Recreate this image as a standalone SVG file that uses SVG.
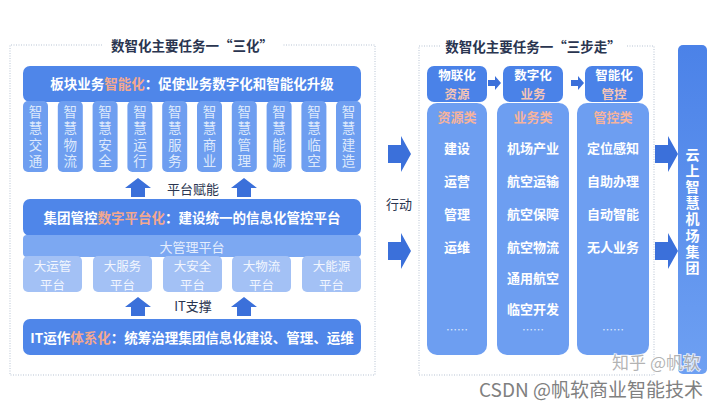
<svg xmlns="http://www.w3.org/2000/svg" width="720" height="405" viewBox="0 0 720 405">
<defs>
<style>
text{font-family:"Noto Sans CJK SC","Noto Sans",sans-serif;}
.frame{fill:none;stroke:#b7c3d3;stroke-width:1;stroke-dasharray:1 1.5;}
.title{font-size:13.5px;font-weight:700;fill:#2a3550;text-anchor:middle;dominant-baseline:central;}
.bar{fill:#4f86e9;}
.bartxt{font-size:13.5px;font-weight:700;fill:#ffffff;text-anchor:middle;dominant-baseline:central;}
.hl{fill:#f3a88f;}
.col{fill:#6e9ef0;}
.coltxt{font-size:13.5px;fill:#dde9fc;text-anchor:middle;writing-mode:vertical-rl;letter-spacing:3px;}
.mgr{fill:#7ca8f2;}
.mgrtxt{font-size:13px;fill:#e4edfd;text-anchor:middle;dominant-baseline:central;}
.plat{fill:#a3c1f5;}
.plattxt{font-size:12.5px;fill:#f2f6fe;text-anchor:middle;dominant-baseline:central;}
.arr{fill:#3b70da;}
.lbl{font-size:13px;fill:#2a3550;text-anchor:middle;dominant-baseline:central;}
.hdr{fill:#4a82e8;}
.hdrtxt{font-size:12.5px;font-weight:700;fill:#ffffff;text-anchor:middle;dominant-baseline:central;}
.hdrsub{font-size:12.5px;font-weight:700;fill:#f6c5b6;text-anchor:middle;dominant-baseline:central;}
.rcol{fill:#6d9ef1;}
.cat{font-size:13px;font-weight:700;fill:#f5b39d;text-anchor:middle;dominant-baseline:central;}
.item{font-size:13px;font-weight:700;fill:#ffffff;text-anchor:middle;dominant-baseline:central;}
.dots{font-size:11px;fill:#dfe9fc;text-anchor:middle;dominant-baseline:central;}
.vt{font-size:14px;font-weight:700;fill:#ffffff;text-anchor:middle;writing-mode:vertical-rl;letter-spacing:2.2px;}
.wm{fill:#808080;stroke:#ffffff;stroke-width:2;paint-order:stroke;stroke-opacity:0.8;}
</style>
<linearGradient id="gv" x1="0" y1="0" x2="0" y2="1">
<stop offset="0" stop-color="#4b82e8"/>
<stop offset="1" stop-color="#6ea0f2"/>
</linearGradient>
<path id="up" d="M0,0 L13,10 L7,10 L7,19 L-7,19 L-7,10 L-13,10 Z"/>
<path id="rt" d="M0,-9 H13 V-18 L23,0 L13,18 V9 H0 Z"/>
<path id="sr" d="M0,-3 H7 V-7 L13,0 L7,7 V3 H0 Z"/>
</defs>
<rect width="720" height="405" fill="#ffffff"/>

<!-- Left frame -->
<g id="left-frame">
<path class="frame" d="M102,45 H10 V375 H375 V45 H283"/>
<text class="title" x="192" y="45">数智化主要任务一“三化”</text>
</g>

<g id="smart-bar">
<rect class="bar" x="23" y="66" width="338" height="36" rx="7"/>
<text class="bartxt" x="192" y="83">板块业务<tspan class="hl">智能化</tspan>：促使业务数字化和智能化升级</text>
</g>

<g id="smart-columns">
<g id="c1"><rect class="col" x="23" y="101" width="25" height="71" rx="5"/><text class="coltxt" x="35.5" y="138">智慧交通</text></g>
<g id="c2"><rect class="col" x="57.8" y="101" width="25" height="71" rx="5"/><text class="coltxt" x="70.3" y="138">智慧物流</text></g>
<g id="c3"><rect class="col" x="92.6" y="101" width="25" height="71" rx="5"/><text class="coltxt" x="105.1" y="138">智慧安全</text></g>
<g id="c4"><rect class="col" x="127.4" y="101" width="25" height="71" rx="5"/><text class="coltxt" x="139.9" y="138">智慧运行</text></g>
<g id="c5"><rect class="col" x="162.2" y="101" width="25" height="71" rx="5"/><text class="coltxt" x="174.7" y="138">智慧服务</text></g>
<g id="c6"><rect class="col" x="197" y="101" width="25" height="71" rx="5"/><text class="coltxt" x="209.5" y="138">智慧商业</text></g>
<g id="c7"><rect class="col" x="231.8" y="101" width="25" height="71" rx="5"/><text class="coltxt" x="244.3" y="138">智慧管理</text></g>
<g id="c8"><rect class="col" x="266.6" y="101" width="25" height="71" rx="5"/><text class="coltxt" x="279.1" y="138">智慧能源</text></g>
<g id="c9"><rect class="col" x="301.4" y="101" width="25" height="71" rx="5"/><text class="coltxt" x="313.9" y="138">智慧临空</text></g>
<g id="c10"><rect class="col" x="336" y="101" width="25" height="71" rx="5"/><text class="coltxt" x="348.5" y="138">智慧建造</text></g>
</g>

<g id="platform-bar">
<rect class="bar" x="23" y="199" width="338" height="37" rx="7"/>
<text class="bartxt" x="192" y="217">集团管控<tspan class="hl">数字平台化</tspan>：建设统一的信息化管控平台</text>
</g>

<g id="mgmt-platform">
<rect class="mgr" x="23" y="235" width="338" height="22" rx="4"/>
<text class="mgrtxt" x="192" y="246">大管理平台</text>
</g>

<g id="platforms">
<g id="p1"><rect class="plat" x="23" y="256" width="59" height="36" rx="5"/><text class="plattxt"><tspan x="52.5" y="265">大运管</tspan><tspan x="52.5" y="283.5">平台</tspan></text></g>
<g id="p2"><rect class="plat" x="93" y="256" width="59" height="36" rx="5"/><text class="plattxt"><tspan x="122.5" y="265">大服务</tspan><tspan x="122.5" y="283.5">平台</tspan></text></g>
<g id="p3"><rect class="plat" x="163" y="256" width="59" height="36" rx="5"/><text class="plattxt"><tspan x="192.5" y="265">大安全</tspan><tspan x="192.5" y="283.5">平台</tspan></text></g>
<g id="p4"><rect class="plat" x="232" y="256" width="59" height="36" rx="5"/><text class="plattxt"><tspan x="261.5" y="265">大物流</tspan><tspan x="261.5" y="283.5">平台</tspan></text></g>
<g id="p5"><rect class="plat" x="302" y="256" width="59" height="36" rx="5"/><text class="plattxt"><tspan x="331.5" y="265">大能源</tspan><tspan x="331.5" y="283.5">平台</tspan></text></g>
</g>

<g id="it-bar">
<rect class="bar" x="23" y="319" width="338" height="36" rx="7"/>
<text class="bartxt" x="192" y="337">IT运作<tspan class="hl">体系化</tspan>：统筹治理集团信息化建设、管理、运维</text>
</g>

<!-- Right frame -->
<g id="right-frame">
<path class="frame" d="M440,46 H419 V375 H654 V46 H626"/>
<text class="title" x="533" y="46">数智化主要任务一“三步走”</text>
</g>

<g id="step1">
<rect class="rcol" x="427" y="103" width="60" height="252" rx="10"/>
<rect class="hdr" x="427" y="66" width="60" height="36" rx="7"/>
<text class="hdrtxt" x="457" y="74.5">物联化</text>
<text class="hdrsub" x="457" y="93">资源</text>
<text class="cat" x="457" y="116">资源类</text>
<text class="item" x="457" y="147">建设</text>
<text class="item" x="457" y="180">运营</text>
<text class="item" x="457" y="213">管理</text>
<text class="item" x="457" y="246">运维</text>
<text class="dots" x="457" y="329">……</text>
</g>

<g id="step2">
<rect class="rcol" x="497" y="103" width="72" height="252" rx="10"/>
<rect class="hdr" x="503" y="66" width="60" height="36" rx="7"/>
<text class="hdrtxt" x="533" y="74.5">数字化</text>
<text class="hdrsub" x="533" y="93">业务</text>
<text class="cat" x="533" y="116">业务类</text>
<text class="item" x="533" y="147">机场产业</text>
<text class="item" x="533" y="180">航空运输</text>
<text class="item" x="533" y="213">航空保障</text>
<text class="item" x="533" y="246">航空物流</text>
<text class="item" x="533" y="277">通用航空</text>
<text class="item" x="533" y="308">临空开发</text>
<text class="dots" x="533" y="329">……</text>
</g>

<g id="step3">
<rect class="rcol" x="577" y="103" width="72" height="252" rx="10"/>
<rect class="hdr" x="585" y="66" width="58" height="36" rx="7"/>
<text class="hdrtxt" x="614" y="74.5">智能化</text>
<text class="hdrsub" x="614" y="93">管控</text>
<text class="cat" x="613" y="116">管控类</text>
<text class="item" x="613" y="147">定位感知</text>
<text class="item" x="613" y="180">自助办理</text>
<text class="item" x="613" y="213">自动智能</text>
<text class="item" x="613" y="246">无人业务</text>
<text class="dots" x="613" y="329">……</text>
</g>

<g id="target">
<rect x="678" y="45" width="29" height="329" rx="5" fill="url(#gv)"/>
<text class="vt" x="692.5" y="212">云上智慧机场集团</text>
</g>

<g id="connectors">
<use href="#up" class="arr" x="138" y="178"/>
<use href="#up" class="arr" x="244" y="178"/>
<text class="lbl" x="193" y="188">平台赋能</text>
<use href="#up" class="arr" x="138" y="297"/>
<use href="#up" class="arr" x="244" y="297"/>
<text class="lbl" x="193" y="305">IT支撑</text>
<use href="#rt" class="arr" x="388" y="154"/>
<use href="#rt" class="arr" x="388" y="251"/>
<text class="lbl" x="399" y="203">行动</text>
<use href="#sr" class="arr" x="488" y="83"/>
<use href="#sr" class="arr" x="571" y="83"/>
<use href="#rt" class="arr" x="655" y="154"/>
<use href="#rt" class="arr" x="655" y="251"/>
</g>

<g id="watermarks">
<text class="wm" x="700" y="369" font-size="17" text-anchor="end" fill-opacity="0.6">知乎 @帆软</text>
<text class="wm" x="703" y="397" font-size="19" text-anchor="end">CSDN @帆软商业智能技术</text>
</g>
</svg>
